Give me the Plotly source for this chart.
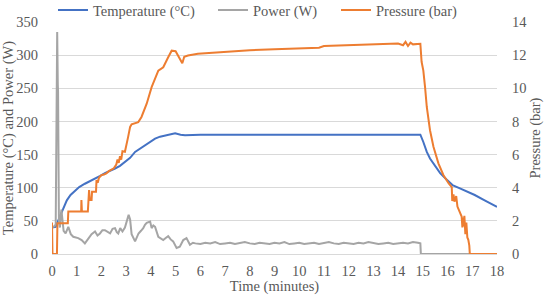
import plotly.graph_objects as go

# ---------------- data ----------------
t_temp = [0, 0.15, 0.3, 0.4, 0.5, 0.6, 0.75, 0.93, 1.1, 1.33, 1.55, 1.74, 1.95, 2.14, 2.35,
          2.55, 2.75, 2.95, 3.16, 3.36, 3.56, 3.76, 3.97, 4.17, 4.37, 4.57, 4.78, 4.98, 5.2,
          5.38, 6, 7, 8, 9, 10, 11, 12, 13, 14, 14.9, 15.02, 15.16, 15.29, 15.5, 15.7, 15.97,
          16.2, 16.5, 16.7, 17.1, 17.5, 18]
temperature = [40, 41, 55, 64, 73, 81, 89, 96, 101, 106, 110, 114, 118, 122, 125,
               129, 133, 139, 145, 154, 159, 164, 169, 174, 177, 179, 181, 182, 180,
               179, 180, 180, 179, 180, 180, 180, 179, 180, 180, 180, 169, 154, 144, 132, 122, 112,
               104, 99, 96, 89, 81, 71]

t_power = [0, 0.1, 0.15, 0.21, 0.235, 0.245, 0.28, 0.32, 0.38, 0.42, 0.47, 0.55, 0.66, 0.76,
           0.86, 1.06, 1.2, 1.33, 1.47, 1.6, 1.74, 1.84, 1.94, 2.04, 2.14, 2.25, 2.35, 2.45,
           2.55, 2.62, 2.68, 2.76, 2.85, 2.95, 3.03, 3.1, 3.16, 3.22, 3.36, 3.5, 3.6, 3.69,
           3.76, 3.83, 3.97, 4.03, 4.1, 4.17, 4.3, 4.4, 4.5, 4.6, 4.7, 4.8, 4.9, 5.04, 5.17,
           5.31, 5.44, 5.58, 5.7, 5.8, 6.0, 6.2, 6.4, 6.6, 6.8, 7.0, 7.2, 7.4, 7.6, 7.8, 8.0,
           8.2, 8.4, 8.6, 8.8, 9.0, 9.2, 9.4, 9.6, 9.8, 10.0, 10.2, 10.4, 10.6, 10.8, 11.0,
           11.2, 11.4, 11.6, 11.8, 12.0, 12.2, 12.4, 12.6, 12.8, 13.0, 13.2, 13.4, 13.6, 13.8,
           14.0, 14.2, 14.4, 14.6, 14.8, 14.9, 14.92, 18]
power = [40, 42, 45, 335, 255, 245, 50, 40, 67, 50, 35, 31, 41, 30,
         26, 24, 21, 16, 24, 30, 34, 28, 31, 36, 36, 33, 31, 38,
         39, 33, 31, 39, 34, 40, 51, 59, 52, 30, 19, 31, 35, 39,
         44, 47, 49, 39, 43, 41, 26, 24, 21, 24, 27, 22, 19, 9, 11,
         21, 24, 14, 17, 16, 15, 17, 16, 18, 15, 16, 17, 15, 16, 18, 16,
         15, 17, 16, 15, 17, 16, 18, 15, 16, 17, 15, 16, 17, 15, 16,
         18, 16, 15, 17, 16, 15, 17, 16, 18, 16, 15, 16, 17, 15,
         16, 17, 16, 18, 17, 16, 0, 0]

t_press = [0, 0.02, 0.2, 0.22, 0.64, 0.66, 1.18, 1.19, 1.21, 1.45, 1.47, 1.5, 1.53, 1.6, 1.62,
           1.78, 1.8, 1.85, 1.9, 2.0, 2.1, 2.2, 2.3, 2.4, 2.5, 2.6, 2.65, 2.7, 2.75, 2.8, 2.85,
           2.95, 3.0, 3.08, 3.16, 3.22, 3.49, 3.62, 3.83, 4.03, 4.3, 4.5, 4.7, 4.84, 5.0, 5.1,
           5.18, 5.27, 5.35, 5.5, 5.9, 6.4, 7, 8, 9, 10, 10.8, 11, 12, 13, 14, 14.2, 14.3,
           14.4, 14.5, 14.6, 14.9, 14.95, 15.02, 15.09, 15.16, 15.29, 15.43, 15.63, 15.83,
           16.04, 16.17, 16.19, 16.24, 16.28, 16.35, 16.4, 16.47, 16.57, 16.6, 16.62, 16.64,
           16.68, 16.72, 16.76, 16.8, 16.84, 16.88, 16.9, 18]
pressure = [1.9, 0, 0, 1.86, 1.86, 2.56, 2.56, 3.26, 2.56, 2.56, 3.26, 3.86, 3.26, 3.26, 3.76,
            3.76, 4.46, 4.3, 4.6, 4.76, 4.8, 4.87, 5.0, 5.1, 5.17, 5.4, 5.7, 5.5, 5.9, 5.7, 6.2,
            6.17, 6.6, 7.07, 7.67, 7.83, 7.96, 8.27, 9.07, 10.07, 11.07, 11.27, 11.87, 12.27, 12.24, 12.0,
            11.78, 11.51, 11.9, 11.98, 12.08, 12.14, 12.2, 12.3, 12.35, 12.4, 12.45, 12.55, 12.6, 12.65, 12.7, 12.6, 12.8,
            12.55, 12.75, 12.65, 12.68, 11.6, 11.07, 10.07, 8.87, 7.47, 6.47, 5.47, 4.77,
            4.27, 4.03, 3.2, 3.6, 3.16, 3.5, 2.86, 2.56, 2.26, 1.6, 2.2, 1.66,
            2.3, 1.2, 1.9, 1.0, 0.86, 0.5, 0, 0]

x_ticks = list(range(0, 19))
y_ticks = [0, 50, 100, 150, 200, 250, 300, 350]
y2_ticks = [0, 2, 4, 6, 8, 10, 12, 14]

# ---------------- figure ----------------
FONT = "Liberation Serif, Times New Roman, serif"
TXT = "#595959"
FS = 14.5

fig = go.Figure()
fig.add_trace(go.Scatter(x=t_temp, y=temperature, mode="lines", name="Temperature (°C)",
                         line=dict(color="#4472C4", width=2), cliponaxis=False, legend="legend"))
fig.add_trace(go.Scatter(x=t_power, y=power, mode="lines", name="Power (W)",
                         line=dict(color="#A5A5A5", width=2), cliponaxis=False, legend="legend2"))
fig.add_trace(go.Scatter(x=t_press, y=pressure, mode="lines", name="Pressure (bar)",
                         line=dict(color="#ED7D31", width=2), yaxis="y2", cliponaxis=False,
                         legend="legend3"))

leg_common = dict(orientation="h", xanchor="left", y=1.12, yanchor="top",
                  font=dict(family=FONT, size=FS, color=TXT), bgcolor="rgba(0,0,0,0)",
                  itemwidth=30)

fig.update_layout(
    width=544, height=295,
    margin=dict(l=52, r=47, t=22, b=41, autoexpand=False),
    paper_bgcolor="white", plot_bgcolor="white",
    font=dict(family=FONT, size=FS, color=TXT),
    showlegend=True,
    legend=dict(x=(53 - 52) / 445, **leg_common),
    legend2=dict(x=(213 - 52) / 445, **leg_common),
    legend3=dict(x=(336 - 52) / 445, **leg_common),
    xaxis=dict(range=[0, 18], tickvals=x_ticks, showgrid=False, zeroline=False,
               showline=True, linecolor="#d9d9d9", ticks="outside", ticklen=4,
               tickcolor="rgba(0,0,0,0)", automargin=False,
               title=dict(text="Time (minutes)", standoff=2, font=dict(size=FS))),
    yaxis=dict(range=[0, 350], tickvals=y_ticks, showgrid=True, gridcolor="#d9d9d9",
               zeroline=False, showline=False, ticks="outside", ticklen=10,
               tickcolor="rgba(0,0,0,0)", automargin=False,
               title=dict(text="Temperature (°C) and Power (W)", standoff=4, font=dict(size=FS))),
    yaxis2=dict(range=[0, 14], tickvals=y2_ticks, overlaying="y", side="right",
                showgrid=False, zeroline=False, showline=False, ticks="outside", ticklen=11,
                tickcolor="rgba(0,0,0,0)", automargin=False,
                title=dict(text="Pressure (bar)", standoff=4, font=dict(size=FS))),
)

fig.write_html("out.html")
